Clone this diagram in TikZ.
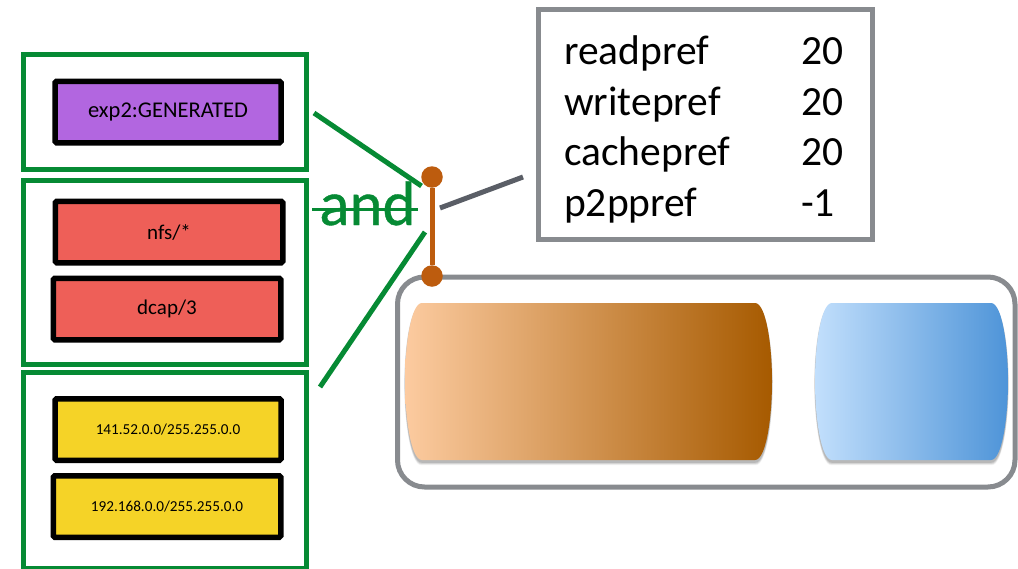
\documentclass[tikz,border=0pt]{standalone}
\usepackage{fontspec}
\setmainfont{Carlito}
\newfontfamily\heavyfont[FakeBold=0.6]{Carlito}
\usetikzlibrary{calc}
\definecolor{grn}{HTML}{068A34}
\definecolor{org}{HTML}{BD5C0E}
\definecolor{gry}{HTML}{888B8F}
\definecolor{dgry}{HTML}{5A5E66}
\definecolor{purp}{HTML}{B266E0}
\definecolor{redb}{HTML}{EE5F58}
\definecolor{yelb}{HTML}{F5D327}
\definecolor{orL}{HTML}{FCCBA0}
\definecolor{orR}{HTML}{A65A00}
\definecolor{blL}{HTML}{C2DFFC}
\definecolor{blR}{HTML}{4E94D8}
\tikzset{
  greenbox/.style={draw=grn,line width=5pt,fill=white,inner sep=0pt},
  rulebox/.style={draw=black,line width=5.5pt,rounded corners=1.5pt,minimum width=226pt,minimum height=61.5pt,inner sep=0pt,text=black},
  bigtxt/.style={font=\fontsize{22.5}{24}\selectfont},
  midtxt/.style={font=\fontsize{21}{24}\selectfont},
  smalltxt/.style={font=\fontsize{15.2}{20}\selectfont},
  preftxt/.style={anchor=base west,inner sep=0pt,text=black,font=\fontsize{41.5}{46}\selectfont},
  greenline/.style={draw=grn,line width=5pt},
  orangeline/.style={draw=org,line width=5pt},
  dotnode/.style={circle,fill=org,minimum size=21.5pt,inner sep=0pt},
}
\newcommand{\barrelpath}[4]{(#1+17,#3) -- (#2-17,#3) .. controls (#2-6,#3) and (#2,345) .. (#2,381.5) .. controls (#2,418) and (#2-6,#4) .. (#2-17,#4) -- (#1+17,#4) .. controls (#1+6,#4) and (#1,418) .. (#1,381.5) .. controls (#1,345) and (#1+6,#3) .. (#1+17,#3) -- cycle}
\begin{document}
\begin{tikzpicture}[x=1pt,y=-1pt]
\useasboundingbox (0,0) rectangle (1018,568);
\clip (0,0) rectangle (1018,568);
\fill[white] (0,0) rectangle (1018,568);
% group frames
\node[greenbox,minimum width=283pt,minimum height=115pt] (g1) at (165,112) {};
\node[greenbox,minimum width=283pt,minimum height=184pt] (g2) at (165,272) {};
\node[greenbox,minimum width=283pt,minimum height=196pt] (g3) at (165,470) {};
% rule boxes
\node[rulebox,fill=purp,bigtxt] (r1) at (168,112) {exp2:GENERATED};
\node[rulebox,fill=redb,midtxt,minimum width=227.5pt] (r2) at (169,232) {nfs/*};
\node[rulebox,fill=redb,midtxt,minimum width=227.5pt] (r3) at (167,309) {dcap/3};
\node[rulebox,fill=yelb,smalltxt] (r4) at (168,429.5) {141.52.0.0/255.255.0.0};
\node[rulebox,fill=yelb,smalltxt,minimum width=227.5pt] (r5) at (167,506.5) {192.168.0.0/255.255.0.0};
% pool group
\node[draw=gry,line width=5pt,rounded corners=27pt,minimum width=617.5pt,minimum height=210pt,inner sep=0pt] (pg) at (706.25,382) {};
% barrels with soft shadows
\foreach \i/\o in {4/0.05,3/0.07,2/0.08,1/0.1}{
  \fill[black,opacity=\o,shift={(0,2)}] \barrelpath{405-\i*0.2}{772+\i*0.2}{303}{460+\i*0.8};
  \fill[black,opacity=\o,shift={(0,2)}] \barrelpath{815-\i*0.2}{1008+\i*0.2}{303}{460+\i*0.8};
}
\shade[left color=orL,right color=orR] \barrelpath{405}{772}{303}{460};
\shade[left color=blL,right color=blR] \barrelpath{815}{1008}{303}{460};
% pref box
\node[draw=gry,line width=5pt,fill=white,minimum width=334pt,minimum height=229.5pt,inner sep=0pt] (pb) at (705.5,124.25) {};
\node[preftxt] (t1) at (564,64) {readpref};
\node[preftxt] (t2) at (564,115) {writepref};
\node[preftxt] (t3) at (564,165.5) {cachepref};
\node[preftxt] (t4) at (564,216.5) {p2ppref};
\node[preftxt] (v1) at (801,64) {20};
\node[preftxt] (v2) at (801,115) {20};
\node[preftxt] (v3) at (801,165.5) {20};
\node[preftxt] (v4) at (801,216.5) {-1};
% junction
\node[dotnode] (d1) at (432,177) {};
\node[dotnode] (d2) at (432,276) {};
\draw[orangeline] (d1) -- (d2);
% connector ends
\coordinate (a1) at (314,113);
\coordinate (a2) at (421.5,186);
\coordinate (b1) at (425,232);
\coordinate (b2) at (320,387);
\coordinate (c1) at (312,209);
\coordinate (c2) at (418,209);
\coordinate (e1) at (440,208);
\coordinate (e2) at (523,177);
\draw[greenline] (a1) -- (a2);
\draw[greenline] (b1) -- (b2);
\node[text=grn,inner sep=0pt,anchor=base,font=\heavyfont\fontsize{63}{70}\selectfont] (andl) at (367.5,225) {and};
\draw[draw=grn,line width=3pt] (c1) -- (c2);
\draw[draw=dgry,line width=5pt] (e1) -- (e2);
\end{tikzpicture}
\end{document}
